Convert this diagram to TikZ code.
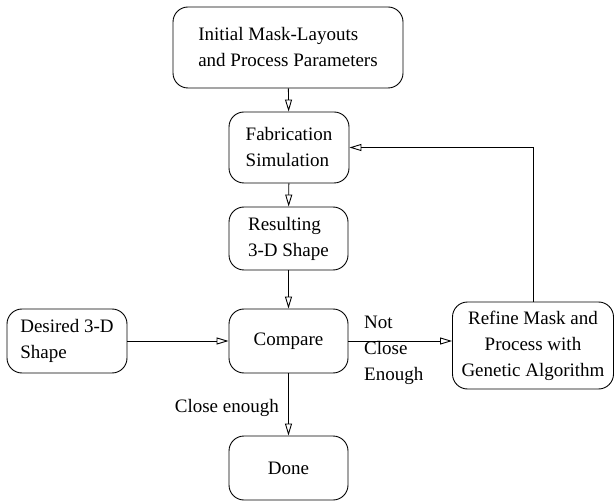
\documentclass[tikz,border=0pt]{standalone}
\usepackage{fontspec}
\setmainfont{Liberation Serif}
\usetikzlibrary{arrows.meta}
\begin{document}
\begin{tikzpicture}[x=1pt,y=-1pt,
  font=\fontsize{19}{26}\selectfont,
  box/.style={draw, line width=0.9pt, rounded corners=15pt, inner sep=0pt, align=left},
  arr/.style={draw, line width=0.9pt, -{Triangle[open,length=12pt,width=7pt]}},
  lbl/.style={inner sep=0pt, align=left}]
\useasboundingbox (0,0) rectangle (615,502);
\node[box, minimum width=230, minimum height=81] (init) at (288,47.5) {Initial Mask-Layouts\\and Process Parameters};
\node[box, minimum width=120, minimum height=71] (fab) at (289,147.5) {Fabrication\\Simulation};
\node[box, minimum width=119, minimum height=63] (res) at (288.5,238.5) {Resulting\\3-D Shape};
\node[box, minimum width=120, minimum height=64] (des) at (67,341) {Desired 3-D\\Shape};
\node[box, minimum width=119, minimum height=64] (cmp) at (288.5,341) {Compare};
\node[box, minimum width=161, minimum height=87, align=center] (ref) at (533,345.5) {Refine Mask and\\Process with\\Genetic Algorithm};
\node[box, minimum width=119, minimum height=64] (done) at (288.5,468) {Done};
\draw[arr] (init) -- (fab);
\draw[arr] (fab) -- (res);
\draw[arr] (res) -- (cmp);
\draw[arr] (des) -- (cmp);
\draw[arr] (cmp.east) -- (cmp.east -| ref.west);
\draw[arr] (ref.north) |- (fab.east);
\draw[arr] (cmp) -- (done);
\node[lbl, anchor=north west] (nce) at (364,316) {Not\\Close\\Enough};
\node[lbl, anchor=east] (ce) at (279,408) {Close enough};
\end{tikzpicture}
\end{document}
